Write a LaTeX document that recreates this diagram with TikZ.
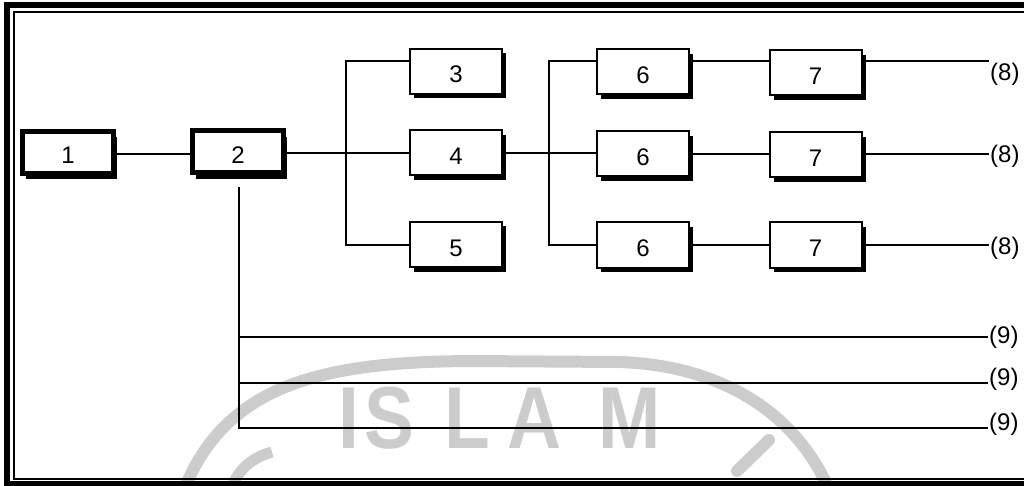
\documentclass[tikz,border=0pt]{standalone}
\usepackage{fontspec}
\setmainfont{Liberation Sans}
\usetikzlibrary{shadows}
\definecolor{wm}{gray}{0.80}
\begin{document}
\begin{tikzpicture}[x=1pt,y=-1pt,
  conn/.style={line width=2pt, line cap=rect},
  lab/.style={font=\fontsize{24}{24}\selectfont, text height=23pt, text depth=0pt},
  thinbox/.style={draw, fill=white, line width=2pt, minimum width=92pt,
    minimum height=45pt, inner sep=0pt, lab,
    drop shadow={shadow xshift=4pt, shadow yshift=-4.5pt, fill=black, opacity=1}},
  thickbox/.style={draw, fill=white, line width=5pt, minimum width=91pt,
    minimum height=42pt, inner sep=0pt, lab,
    drop shadow={shadow xshift=3pt, shadow yshift=-6pt, fill=black, opacity=1}},
  endlab/.style={anchor=west, inner sep=2pt, font=\fontsize{24}{24}\selectfont,
    text height=17pt, text depth=5pt},
  wmtext/.style={text=wm, font=\fontsize{88}{88}\selectfont\bfseries, inner sep=0pt, anchor=base, xscale=0.85}
]
\useasboundingbox (0,0) rectangle (1024,486);
\clip (0,0) rectangle (1024,486);
% watermark
\draw[wm, line width=12pt] (183,492) .. controls (225,385) and (320,362) .. (470,361)
   -- (620,362) .. controls (730,366) and (800,420) .. (830,492);
\draw[wm, line width=12pt, line cap=round] (737,471) -- (769,440);
\draw[wm, line width=11pt] (272,452) .. controls (250,458) and (236,472) .. (230,492);
\node[wmtext] (wI) at (349,448) {I};
\node[wmtext] (wS) at (389,448) {S};
\node[wmtext] (wL) at (467,448) {L};
\node[wmtext] (wA) at (535,448) {A};
\node[wmtext] (wM) at (630,448) {M};
% frame
\draw[line width=6pt] (1100,5) -- (7,5) -- (7,483.5) -- (1100,483.5);
\draw[line width=2pt] (1100,12) -- (13.5,12) -- (13.5,478.5) -- (1100,478.5);
% boxes
\node[thickbox] (b1) at (68,152.5) {1};
\node[thickbox] (b2) at (238,152) {2};
\node[thinbox] (b3) at (456,71.5) {3};
\node[thinbox] (b4) at (456,153) {4};
\node[thinbox] (b5) at (456,244.5) {5};
\node[thinbox] (b6a) at (643,72) {6};
\node[thinbox] (b6b) at (643,154) {6};
\node[thinbox] (b6c) at (643,245) {6};
\node[thinbox] (b7a) at (815.5,73) {7};
\node[thinbox] (b7b) at (815.5,155) {7};
\node[thinbox] (b7c) at (815.5,245) {7};
% coordinates
\coordinate (r1) at (0,61.5);
\coordinate (p1t) at (346,61);
\coordinate (p1b) at (346,244.5);
\coordinate (p2t) at (549,61.5);
\coordinate (p2b) at (549,245);
\coordinate (e8a) at (988,61.5);
\coordinate (e8b) at (988,154);
\coordinate (e8c) at (988,245);
\coordinate (d0) at (239,188);
\coordinate (d1) at (239,337);
\coordinate (d2) at (239,383);
\coordinate (d3) at (239,428);
\coordinate (e9a) at (987,337);
\coordinate (e9b) at (987,383);
\coordinate (e9c) at (987,428);
% connectors
\draw[conn] (b1.east |- 0,154) -- (b2.west |- 0,154);
\draw[conn] (b2.east |- 0,153) -- (b4.west |- 0,153);
\draw[conn] (p1t) -- (p1b);
\draw[conn] (p1t) -- (p1t -| b3.west);
\draw[conn] (p1b) -- (p1b -| b5.west);
\draw[conn] (b4.east |- 0,153.5) -- (b6b.west |- 0,153.5);
\draw[conn] (p2t) -- (p2b);
\draw[conn] (p2t) -- (p2t -| b6a.west);
\draw[conn] (p2b) -- (p2b -| b6c.west);
\draw[conn] (r1 -| b6a.east) -- (r1 -| b7a.west);
\draw[conn] (b6b.east |- e8b) -- (b7b.west |- e8b);
\draw[conn] (b6c.east |- e8c) -- (b7c.west |- e8c);
\draw[conn] (r1 -| b7a.east) -- (e8a);
\draw[conn] (b7b.east |- e8b) -- (e8b);
\draw[conn] (b7c.east |- e8c) -- (e8c);
\draw[conn] (d0) -- (d3);
\draw[conn] (d1) -- (e9a);
\draw[conn] (d2) -- (e9b);
\draw[conn] (d3) -- (e9c);
% end labels
\node[endlab] (l8a) at (988,75) {(8)};
\node[endlab] (l8b) at (988,157) {(8)};
\node[endlab] (l8c) at (988,248) {(8)};
\node[endlab] (l9a) at (987,337) {(9)};
\node[endlab] (l9b) at (987,379) {(9)};
\node[endlab] (l9c) at (987,424) {(9)};
\end{tikzpicture}
\end{document}
